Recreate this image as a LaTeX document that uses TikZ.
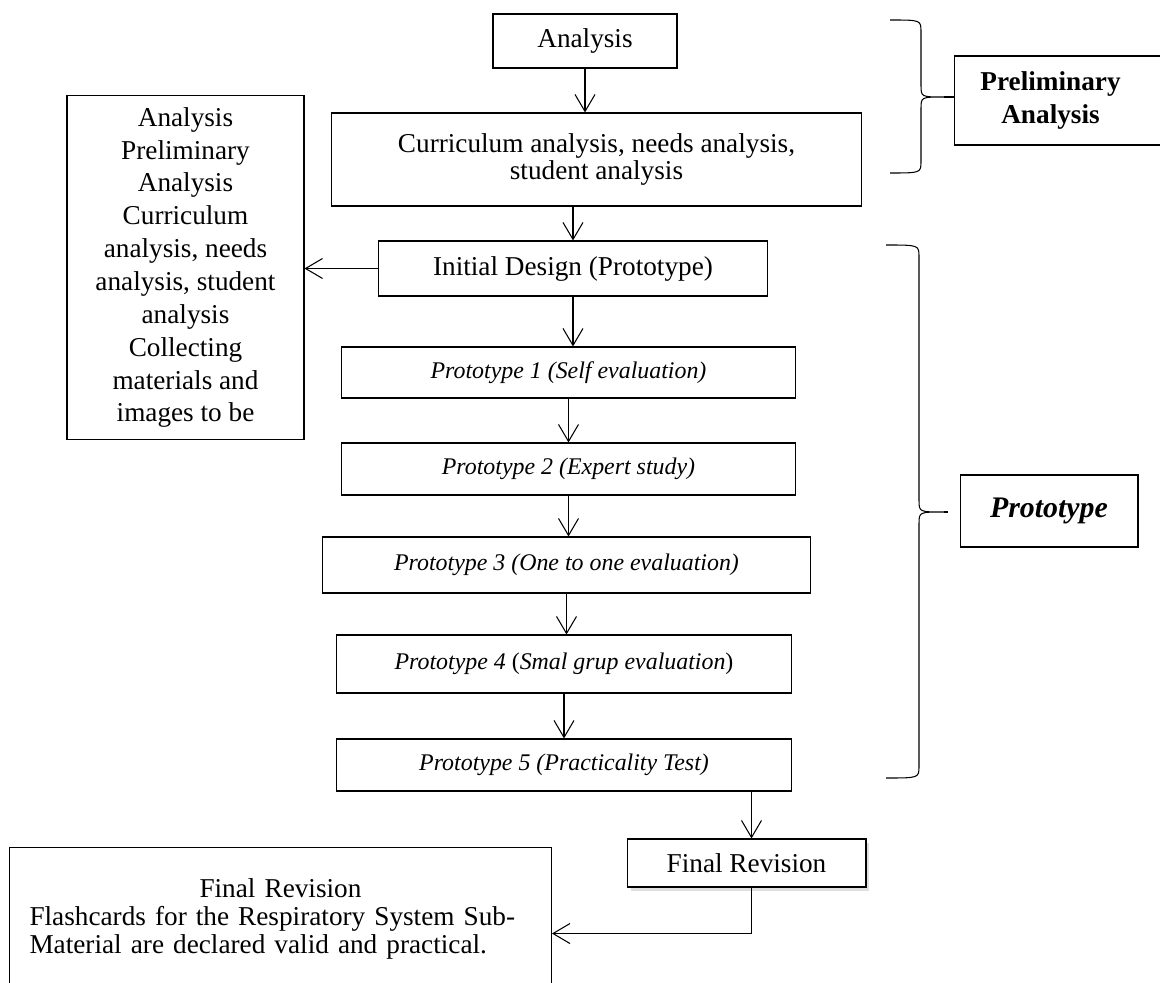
\documentclass[tikz,border=0pt]{standalone}
\usepackage{fontspec}
\setmainfont{Liberation Serif}
\usetikzlibrary{arrows.meta,calc,shadows}

\begin{document}
\begin{tikzpicture}[x=0.02cm, y=-0.02cm, >={Straight Barb[length=3.4mm,width=4mm]},
        every node/.style={font=\fontsize{15.5}{18.7}\selectfont},
        box/.style={draw, line width=0.6pt, align=center, inner sep=0pt},
        proto/.style={box, font=\fontsize{13.6}{17}\selectfont\itshape},
        link/.style={->, line width=0.6pt},
        curly/.style={line width=0.6pt}]
        \useasboundingbox (0,0) rectangle (1160,983);
        \node[box, minimum width=3.68cm, minimum height=1.08cm] (analysis) at (585,41) {Analysis};
        \node[box, minimum width=10.62cm, minimum height=1.86cm, font=\fontsize{15.5}{14}\selectfont] (curric) at (596.5,159.5) {Curriculum analysis, needs analysis,\\ student analysis};
        \node[box, minimum width=7.8cm, minimum height=1.1cm] (init) at (573,268.5) {Initial Design (Prototype)};
        \node[proto, minimum width=9.1cm, minimum height=1.02cm] (p1) at (568.5,372.5) {Prototype 1 (Self evaluation)};
        \node[proto, minimum width=9.1cm, minimum height=1.04cm] (p2) at (568.5,469) {Prototype 2 (Expert study)};
        \node[proto, minimum width=9.78cm, minimum height=1.12cm] (p3) at (566.5,565) {Prototype 3 (One to one evaluation)};
        \node[proto, minimum width=9.12cm, minimum height=1.16cm] (p4) at (564,664) {Prototype 4 {\upshape(}Smal grup evaluation{\upshape)}};
        \node[proto, minimum width=9.12cm, minimum height=1.04cm] (p5) at (564,765) {Prototype 5 (Practicality Test)};
        \node[box, minimum width=4.78cm, minimum height=0.96cm, fill=white, drop shadow={opacity=0.25, shadow xshift=2pt, shadow yshift=-2pt}] (final) at (746.5,863) {Final Revision};
        \node[box, minimum width=4.74cm, minimum height=6.9cm] (side) at (185.5,267.5) {Analysis\\ Preliminary\\ Analysis\\ Curriculum\\ analysis, needs\\ analysis, student\\ analysis\\ Collecting\\ materials and\\ images to be};
        \node[box, anchor=north west, align=left, text width=10.04cm, inner xsep=0.4cm, inner ysep=0.62cm, font=\fontsize{15.5}{16}\selectfont] (flash) at (9,847) {\makebox[\linewidth]{Final Revision}\\ Flashcards for the Respiratory System Sub-\\ Material are declared valid and practical.\rule[-1cm]{0pt}{0pt}};
        \node[box, anchor=west, minimum width=4.24cm, minimum height=1.78cm, font=\fontsize{15.5}{18.7}\selectfont\bfseries] (prelim) at (954,100.5) {Preliminary\hspace*{0.4cm}\\ Analysis\hspace*{0.4cm}};
        \node[box, minimum width=3.56cm, minimum height=1.44cm, font=\fontsize{17}{20}\selectfont\bfseries\itshape] (proto) at (1049,511) {Prototype};
        \draw[link] (analysis.south) -- (analysis.south |- curric.north);
        \draw[link] (curric.south -| init.north) -- (init.north);
        \draw[link] (init.west) -- (init.west -| side.east);
        \draw[link] (init.south) -- (init.south |- p1.north);
        \draw[link] (p1.south) -- (p1.south |- p2.north);
        \draw[link] (p2.south) -- (p2.south |- p3.north);
        \draw[link] (p3.south) -- (p3.south |- p4.north);
        \draw[link] (p4.south) -- (p4.south |- p5.north);
        \coordinate (drop) at ($(final.south)+(5,0)$);
        \draw[link] (p5.south -| drop) -- (final.north -| drop);
        \coordinate (turn) at ($(drop)+(0,46)$);
        \draw[link] (drop) -- (turn) -- (turn -| flash.east);
        \coordinate (tipA) at (944,97);
        \coordinate (tipB) at (944,512);
        \draw[curly] (890,20) .. controls (921,20) .. (921,32) -- (921,85) .. controls (921,97) .. (tipA) .. controls (921,97) .. (921,109) -- (921,161) .. controls (921,173) .. (890,173);
        \draw[curly] (tipA) -- (tipA -| prelim.west);
        \draw[curly] (886,245) .. controls (919,245) .. (919,257) -- (919,500) .. controls (919,512) .. (tipB) .. controls (919,512) .. (919,524) -- (919,766) .. controls (919,778) .. (886,778);
        \draw[curly, shorten >=0.24cm] (tipB) -- (tipB -| proto.west);
\end{tikzpicture}
\end{document}
